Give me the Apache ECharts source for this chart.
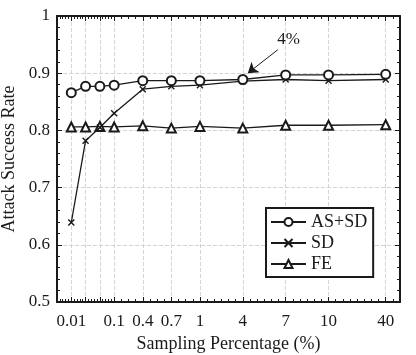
<!DOCTYPE html>
<html>
<head>
<meta charset="utf-8">
<script src="https://cdn.jsdelivr.net/npm/echarts@6/dist/echarts.min.js"></script>
<style>
  html, body { margin: 0; padding: 0; background: #fff; }
  #chart { width: 416px; height: 355px; }
</style>
</head>
<body>
<div id="chart"></div>
<script>
// sampling percentages and where they sit on the (uneven) x axis
const samplingPct = ["0.01", "0.04", "0.07", "0.1", "0.4", "0.7", "1", "4", "7", "10", "40"];
const xSlot = [0, 1, 2, 3, 5, 7, 9, 12, 15, 18, 22];
const shownLabels = ["0.01", "0.1", "0.4", "0.7", "1", "4", "7", "10", "40"];

const asSd = [0.866, 0.877, 0.877, 0.879, 0.887, 0.887, 0.887, 0.889, 0.897, 0.897, 0.898];
const sd = [0.639, 0.782, 0.805, 0.83, 0.872, 0.877, 0.879, 0.886, 0.889, 0.887, 0.889];
const fe = [0.806, 0.806, 0.807, 0.806, 0.808, 0.804, 0.807, 0.804, 0.809, 0.809, 0.810];

const yTicks = [0.5, 0.6, 0.7, 0.8, 0.9, 1];

const FONT = "Liberation Serif";
const INK = "#1a1a1a";

const pairs = (ys) => xSlot.map((x, i) => [x, ys[i]]);
const labelSlots = shownLabels.map((t) => xSlot[samplingPct.indexOf(t)]);

// small minor ticks along top/bottom
const minorX = [];
for (let v = -1; v < 3; v += 0.2) minorX.push(+v.toFixed(2));
for (let v = 3; v <= 23; v += 0.5) minorX.push(v);

const gridRect = { left: 57, right: 16, top: 16, bottom: 53, outerBoundsMode: "none" };
const frame = { show: true, onZero: false, lineStyle: { color: INK, width: 2 } };
const dash = { color: "#d4d4d4", type: "dashed", width: 1 };

let myChart = echarts.init(document.getElementById("chart"));
myChart.setOption({
  animation: false,
  textStyle: { fontFamily: FONT },
  grid: [Object.assign({}, gridRect), Object.assign({}, gridRect)],
  xAxis: [
    {
      type: "value", gridIndex: 0, position: "bottom",
      min: -1, max: 23,
      name: "Sampling Percentage (%)",
      nameLocation: "middle", nameGap: 32,
      nameTextStyle: { fontFamily: FONT, fontSize: 18, color: INK },
      axisLine: frame,
      axisTick: { show: true, inside: true, length: 5, customValues: xSlot, lineStyle: { color: INK } },
      axisLabel: {
        customValues: labelSlots, margin: 11,
        fontFamily: FONT, fontSize: 17, color: INK,
        formatter: (v) => samplingPct[xSlot.indexOf(v)],
      },
      splitLine: { show: true, lineStyle: dash },
    },
    {
      type: "value", gridIndex: 0, position: "top",
      min: -1, max: 23,
      axisLine: frame,
      axisTick: { show: true, inside: true, length: 5, customValues: xSlot, lineStyle: { color: INK } },
      axisLabel: { show: false },
      splitLine: { show: false },
    },
    {
      type: "value", gridIndex: 1, position: "bottom",
      min: -1, max: 23,
      axisLine: { show: false },
      axisTick: { show: true, inside: true, length: 3, customValues: minorX, lineStyle: { color: INK } },
      axisLabel: { show: false },
      splitLine: { show: false },
    },
    {
      type: "value", gridIndex: 1, position: "top",
      min: -1, max: 23,
      axisLine: { show: false },
      axisTick: { show: true, inside: true, length: 3, customValues: minorX, lineStyle: { color: INK } },
      axisLabel: { show: false },
      splitLine: { show: false },
    },
  ],
  yAxis: [
    {
      type: "value", gridIndex: 0, position: "left",
      min: yTicks[0], max: yTicks[yTicks.length - 1], interval: 0.1,
      name: "Attack Success Rate",
      nameLocation: "middle", nameGap: 33,
      nameTextStyle: { fontFamily: FONT, fontSize: 18, color: INK },
      axisLine: frame,
      axisTick: { show: true, inside: true, length: 5, lineStyle: { color: INK } },
      minorTick: { show: true, splitNumber: 5, length: 3, lineStyle: { color: INK } },
      axisLabel: {
        margin: 7, fontFamily: FONT, fontSize: 17, color: INK,
        formatter: (v) => String(+v.toFixed(2)),
      },
      splitLine: { show: true, lineStyle: dash },
    },
    {
      type: "value", gridIndex: 0, position: "right",
      min: yTicks[0], max: yTicks[yTicks.length - 1], interval: 0.1,
      axisLine: frame,
      axisTick: { show: true, inside: true, length: 5, lineStyle: { color: INK } },
      minorTick: { show: true, splitNumber: 5, length: 3, lineStyle: { color: INK } },
      axisLabel: { show: false },
      splitLine: { show: false },
    },
    { type: "value", gridIndex: 1, min: 0.5, max: 1, axisLine: { show: false }, axisTick: { show: false }, axisLabel: { show: false }, splitLine: { show: false } },
  ],
  legend: {
    orient: "vertical",
    left: 266, top: 208,
    itemWidth: 35, itemHeight: 10, itemGap: 3,
    padding: [5, 6, 4, 4],
    backgroundColor: "#fff",
    borderColor: INK, borderWidth: 2,
    textStyle: { fontFamily: FONT, fontSize: 18, color: INK },
    data: ["AS+SD", "SD", "FE"],
  },
  series: [
    {
      name: "AS+SD", type: "line",
      data: pairs(asSd),
      symbol: "emptyCircle", symbolSize: 9,
      lineStyle: { color: INK, width: 1.3 },
      itemStyle: { color: INK, borderColor: INK, borderWidth: 1.3 },
      z: 5,
      markLine: {
        silent: true,
        symbol: ["none", "arrow"], symbolSize: 10,
        label: { show: false },
        lineStyle: { color: INK, width: 1, type: "solid" },
        data: [[{ coord: [14.45, 0.941] }, { coord: [12.35, 0.9] }]],
      },
      markPoint: {
        silent: true,
        symbol: "rect", symbolSize: 1,
        itemStyle: { color: "rgba(0,0,0,0)" },
        label: { show: true, position: "inside", fontFamily: FONT, fontSize: 17, color: INK, formatter: "4%" },
        data: [{ coord: [15.2, 0.958] }],
      },
    },
    {
      name: "SD", type: "line",
      data: pairs(sd),
      symbol: "path://M0,0L10,10M10,0L0,10", symbolSize: 6,
      lineStyle: { color: INK, width: 1.3 },
      itemStyle: { color: INK, borderColor: INK, borderWidth: 1.4 },
      z: 4,
    },
    {
      name: "FE", type: "line",
      data: pairs(fe),
      symbol: "emptyTriangle", symbolSize: 9,
      lineStyle: { color: INK, width: 1.3 },
      itemStyle: { color: INK, borderColor: INK, borderWidth: 1.3 },
      z: 3,
    },
  ],
});
</script>
</body>
</html>
